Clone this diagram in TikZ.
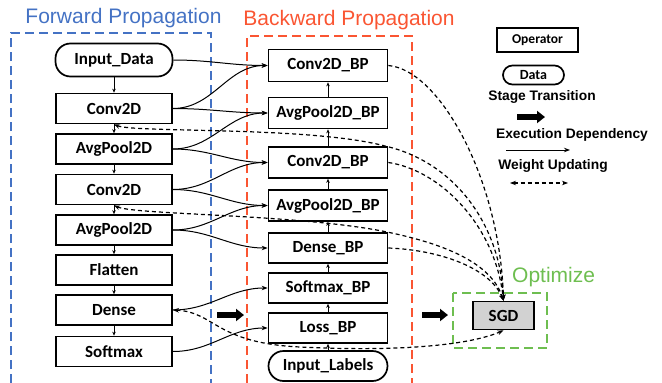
\documentclass[tikz,border=0pt]{standalone}
\usepackage{fontspec}
\setmainfont{Liberation Sans}
\newfontfamily\opfont{Carlito}
\usetikzlibrary{arrows.meta}
\definecolor{fpblue}{RGB}{68,114,196}
\definecolor{bpred}{RGB}{250,85,50}
\definecolor{optgreen}{RGB}{110,190,80}
\definecolor{sgdgray}{RGB}{210,210,210}

\begin{document}
\begin{tikzpicture}[x=1pt, y=-1pt,
	op/.style={draw, line width=1.7pt, minimum width=116pt, minimum height=30pt, inner sep=0pt, font=\opfont\bfseries\fontsize{17}{19}\selectfont},
	bpop/.style={op, minimum width=119pt, minimum height=31pt},
	data/.style={op, rounded corners=15pt},
	title/.style={anchor=base, inner sep=0pt, font=\fontsize{21}{24}\selectfont},
	lgtext/.style={inner sep=0pt, font=\bfseries\fontsize{13.8}{16}\selectfont},
	flow/.style={-{Stealth[length=4pt,width=3.5pt]}, line width=0.8pt},
	dep/.style={-{Stealth[length=6pt,width=4.5pt]}, line width=1pt},
	upd/.style={-{Stealth[length=6pt,width=4.5pt]}, line width=1.2pt, dash pattern=on 4pt off 3pt},
	updboth/.style={upd, {Stealth[length=6pt,width=4.5pt]}-{Stealth[length=6pt,width=4.5pt]}},
	stage/.style={line width=5.5pt, -{Triangle[length=8pt,width=12pt]}},
	stagebox/.style={line width=1.5pt, dash pattern=on 9pt off 5pt}]
			\useasboundingbox (0,0) rectangle (662,383);

			% Stages
			\draw[stagebox, fpblue] (11,383) -- (11,33) -- (211,33) -- (211,383);
			\draw[stagebox, bpred] (247,383) -- (247,36) -- (412,36) -- (412,383);
			\draw[stagebox, optgreen] (453,293) rectangle (547,348);
			\node[title, text=fpblue] (fwdlbl) at (123.5,23) {Forward Propagation};
			\node[title, text=bpred] (bwdlbl) at (349,25) {Backward Propagation};
			\node[title, text=optgreen, anchor=base west] (optlbl) at (512,282) {Optimize};

			% Forward Propagation
			\node[data, minimum width=117pt, minimum height=33pt] (indata) at (114,60) {Input\_Data};
			\node[op] (fc1) at (114,108.5) {Conv2D};
			\node[op] (fp1) at (114,149) {AvgPool2D};
			\node[op] (fc2) at (114,189.5) {Conv2D};
			\node[op] (fp2) at (114,230) {AvgPool2D};
			\node[op] (ffl) at (114,270) {Flatten};
			\node[op] (fdn) at (114,310) {Dense};
			\node[op] (fsm) at (114,351.5) {Softmax};
			\draw[flow] (indata.south) -- (fc1.north);
			\draw[flow] (fc1.south) -- (fp1.north);
			\draw[flow] (fp1.south) -- (fc2.north);
			\draw[flow] (fc2.south) -- (fp2.north);
			\draw[flow] (fp2.south) -- (ffl.north);
			\draw[flow] (ffl.south) -- (fdn.north);
			\draw[flow] (fdn.south) -- (fsm.north);

			% Backward Propagation
			\node[bpop, minimum height=32pt] (bc1) at (328,65.5) {Conv2D\_BP};
			\node[bpop] (bp1) at (328,113) {AvgPool2D\_BP};
			\node[bpop] (bc2) at (328,162.5) {Conv2D\_BP};
			\node[bpop] (bp2) at (328,205.5) {AvgPool2D\_BP};
			\node[bpop, minimum height=30pt] (bdn) at (328,248) {Dense\_BP};
			\node[bpop, minimum height=30pt] (bsm) at (328,288) {Softmax\_BP};
			\node[bpop, minimum height=30pt] (bls) at (328,328) {Loss\_BP};
			\node[data, minimum width=119pt, minimum height=30pt] (inlab) at (328,366) {Input\_Labels};
			\draw[flow] (inlab.north) -- (bls.south);
			\draw[flow] (bls.north) -- (bsm.south);
			\draw[flow] (bsm.north) -- (bdn.south);
			\draw[flow] (bdn.north) -- (bp2.south);
			\draw[flow] (bp2.north) -- (bc2.south);
			\draw[flow] (bc2.north) -- (bp1.south);
			\draw[flow] (bp1.north) -- (bc1.south);

			% Execution dependency
			\draw[dep] (indata.east) to[out=0,in=180] (bc1.west);
			\draw[dep] (fc1.east) to[out=0,in=180] (bc1.west);
			\draw[dep] (fc1.east) to[out=0,in=180] (bp1.west);
			\draw[dep] (fp1.east) to[out=0,in=180] (bp1.west);
			\draw[dep] (fp1.east) to[out=0,in=180] (bc2.west);
			\draw[dep] (fc2.east) to[out=0,in=180] (bc2.west);
			\draw[dep] (fc2.east) to[out=0,in=180] (bp2.west);
			\draw[dep] (fp2.east) to[out=0,in=180] (bp2.west);
			\draw[dep] (fp2.east) to[out=0,in=180] (bdn.west);
			\draw[dep] (fdn.east) to[out=0,in=180] (bsm.west);
			\draw[dep] (fsm.east) to[out=0,in=180] (bls.west);

			% Optimize
			\node[op, fill=sgdgray, minimum width=61pt, minimum height=28pt] (sgd) at (503.5,315.5) {SGD};

			% Weight updating
			\draw[upd] (bc1.east) .. controls (440,70) and (500,180) .. (sgd.north);
			\draw[updboth] (fc1.south) .. controls (135,133) and (310,126) .. (385,146) .. controls (455,162) and (500,225) .. (sgd.north);
			\draw[upd] (bc2.east) .. controls (440,170) and (495,225) .. (sgd.north);
			\draw[updboth] (fc2.south) .. controls (135,215) and (300,214) .. (387,232) .. controls (450,245) and (492,265) .. (sgd.north);
			\draw[upd] (bdn.east) .. controls (440,250) and (490,268) .. (sgd.north);
			\draw[updboth] (fdn.east) .. controls (215,312) and (215,343) .. (300,347) .. controls (400,352) and (470,345) .. (sgd.south);

			% Stage transitions
			\coordinate (st1a) at (217,315);
			\coordinate (st1b) at (244,315);
			\coordinate (st2a) at (422,315);
			\coordinate (st2b) at (448,315);
			\draw[stage] (st1a) -- (st1b);
			\draw[stage] (st2a) -- (st2b);

			% Legend
			\node[op, minimum width=81pt, minimum height=24pt, font=\opfont\bfseries\fontsize{13.5}{15}\selectfont] (lgop) at (537.5,40) {Operator};
			\node[data, minimum width=61pt, minimum height=19pt, rounded corners=9.5pt, font=\opfont\bfseries\fontsize{14}{15}\selectfont] (lgdata) at (533.5,75) {Data};
			\node[lgtext] (lgst) at (542,97) {Stage Transition};
			\coordinate (lgsta) at (517,117);
			\coordinate (lgstb) at (545,117);
			\draw[stage] (lgsta) -- (lgstb);
			\node[lgtext] (lgex) at (572,135) {Execution Dependency};
			\coordinate (lgexa) at (506,150);
			\coordinate (lgexb) at (570,150);
			\draw[dep] (lgexa) -- (lgexb);
			\node[lgtext] (lgwu) at (553,166) {Weight Updating};
			\coordinate (lgwua) at (510,183);
			\coordinate (lgwub) at (568,183);
			\draw[updboth] (lgwua) -- (lgwub);
\end{tikzpicture}
\end{document}
